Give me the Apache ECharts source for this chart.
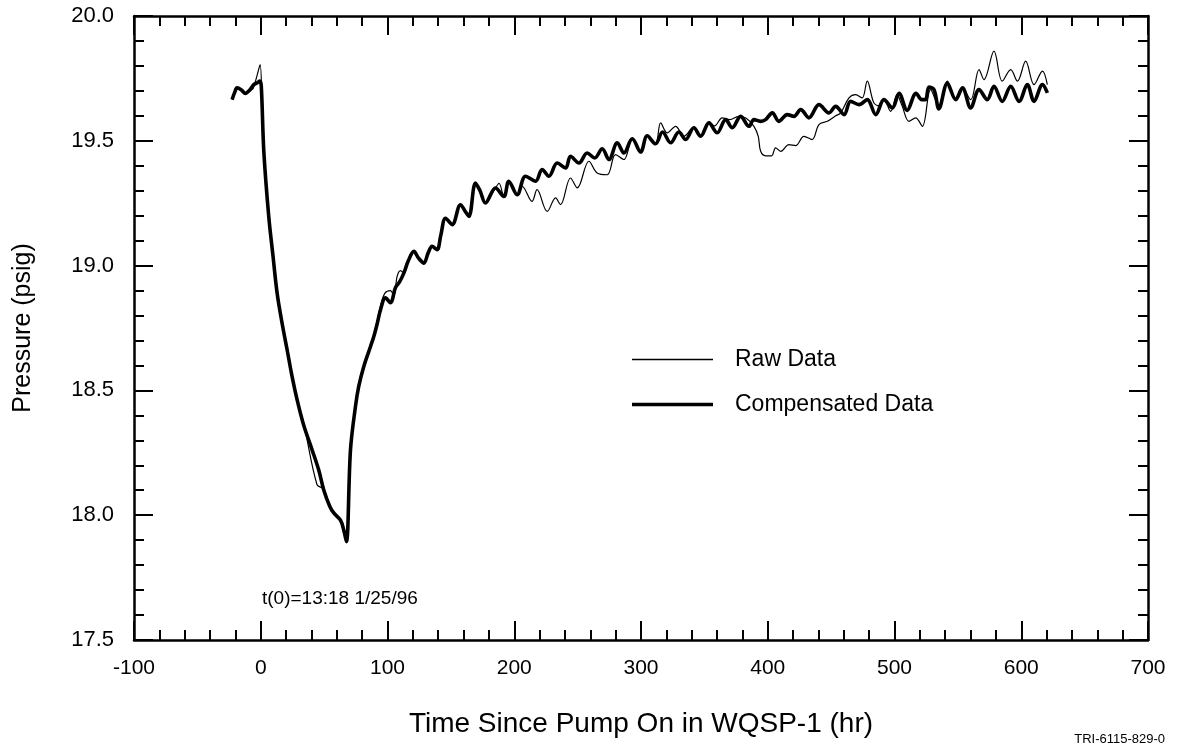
<!DOCTYPE html>
<html>
<head>
<meta charset="utf-8">
<script src="https://cdn.jsdelivr.net/npm/echarts@6/dist/echarts.min.js"></script>
<style>
html,body{margin:0;padding:0;background:#fff;}
#chart{width:1178px;height:754px;}
</style>
</head>
<body>
<div id="chart"></div>
<script>
// ---- data (hours since pump on, pressure psig) ----
var compHours = [-22.6,-20.5,-18.7,-15.5,-12.1,-8.5,-5.5,-2.9,-0.8,0.4,2.4,6.3,9.7,12.9,16.8,20.8,24.7,28.7,33.9,40.5,45.8,49.7,54.5,57.6,62.9,65.5,67.6,70.8,74.7,77.3,81.3,86.6,89.2,92,94.5,98.4,102.3,106.3,109.5,112.9,116.5,120.8,124.5,128.7,132,135.2,139.1,142,145.8,151.0,157.6,161,164.2,169.4,173,177.3,185.2,191.8,195.7,202.3,208.9,216.8,222.0,227.3,233.9,240.5,244.4,251,257.5,263.5,269.4,274.7,281.3,286.5,293.1,299.7,304.9,311.5,317,323.4,329.9,335.2,341.7,347,353.6,360.1,366.8,372,378.6,385.2,389.1,394.4,398.3,403.6,408.8,415.4,420.7,426,432.5,440.4,448.3,453.6,460.2,465.4,472,478.5,485.2,491.7,498.3,503.6,510,517,521.5,524.5,527.2,531.2,535,541.7,548.3,553.6,560.1,566.7,573.2,578.5,585,591.7,598.3,604.8,610.1,616.7,620.6];
var compPsig = [19.665,19.695,19.712,19.705,19.690,19.705,19.725,19.732,19.739,19.72,19.46,19.197,19.037,18.89,18.77,18.663,18.556,18.462,18.36,18.262,18.18,18.101,18.035,18.009,17.98,17.94,17.894,18.262,18.435,18.516,18.596,18.676,18.716,18.77,18.823,18.871,18.851,18.912,18.935,18.97,19.02,19.057,19.03,19.01,19.05,19.077,19.064,19.12,19.19,19.164,19.244,19.22,19.197,19.331,19.30,19.251,19.311,19.277,19.338,19.284,19.358,19.338,19.385,19.358,19.411,19.391,19.438,19.411,19.451,19.431,19.468,19.425,19.492,19.451,19.508,19.455,19.520,19.488,19.535,19.492,19.535,19.505,19.552,19.518,19.572,19.532,19.585,19.552,19.598,19.558,19.585,19.578,19.585,19.612,19.578,19.605,19.598,19.625,19.592,19.645,19.612,19.638,19.605,19.658,19.645,19.665,19.605,19.665,19.632,19.690,19.622,19.690,19.665,19.665,19.715,19.705,19.628,19.730,19.665,19.712,19.632,19.705,19.665,19.718,19.658,19.718,19.658,19.725,19.658,19.725,19.692];

var rawHours = [-22.6,-20.5,-18.7,-15.5,-12.1,-8.5,-6,-3,-0.5,1.2,2.4,6.3,9.7,12.9,16.8,20.8,24.7,28.7,33.4,44.4,49.7,54.5,57.6,62.9,65.5,67.6,70.8,74.7,77.3,81.3,86.6,89.2,92,94.5,98,102.3,105,107.6,110.3,113,116.5,120.8,124.5,128.7,132,135.2,139.1,142,145.8,151.0,157.6,161,164.2,169.4,173,177.3,185.2,188,191.8,195.7,202.3,206.2,214,218,226,232.6,236.5,244.4,249.7,258.9,265.4,273.3,279.9,286.5,293.1,299.7,304.9,311.5,315.5,320.7,327.3,333.9,341.7,347,353.6,358,364.1,370,377.1,383,389.1,392.5,394.4,398.3,403,406.2,410.2,416.7,422,428.5,435,440.4,447,453.6,457.5,464.1,469.3,474.5,478.5,483.7,488,491.7,497,502,506,511.4,516.7,522,528.5,535,541.7,548.3,553.6,560.1,566.7,570.6,578.5,585,591.7,597,603.5,610.1,616.7,620.6];
var rawPsig = [19.665,19.695,19.712,19.705,19.690,19.700,19.71,19.76,19.805,19.60,19.47,19.20,19.04,18.89,18.77,18.66,18.556,18.46,18.38,18.122,18.105,18.035,18.01,17.975,17.94,17.894,18.26,18.44,18.52,18.60,18.68,18.72,18.78,18.84,18.89,18.90,18.88,18.957,18.98,18.97,19.02,19.057,19.03,19.01,19.05,19.077,19.064,19.12,19.19,19.164,19.244,19.22,19.197,19.331,19.30,19.251,19.311,19.33,19.277,19.338,19.284,19.318,19.257,19.304,19.217,19.271,19.244,19.351,19.311,19.418,19.371,19.364,19.445,19.425,19.505,19.458,19.52,19.49,19.572,19.532,19.558,19.518,19.555,19.52,19.575,19.56,19.592,19.585,19.598,19.59,19.558,19.518,19.458,19.44,19.44,19.472,19.458,19.485,19.481,19.518,19.505,19.565,19.578,19.60,19.612,19.672,19.685,19.672,19.739,19.652,19.64,19.665,19.618,19.685,19.64,19.578,19.592,19.558,19.705,19.64,19.739,19.67,19.71,19.665,19.785,19.745,19.859,19.739,19.785,19.739,19.819,19.725,19.779,19.725];

var xTicks = {min:-100, max:700, step:100};
var yTicks = {min:17.5, max:20.0, step:0.5};
var seriesNames = ['Raw Data','Compensated Data'];
var xTitle = 'Time Since Pump On in WQSP-1 (hr)';
var yTitle = 'Pressure (psig)';
var noteText = 't(0)=13:18 1/25/96';
var figId = 'TRI-6115-829-0';

function zip(a,b){var o=[];for(var i=0;i<a.length;i++)o.push([a[i],b[i]]);return o;}

var FONT = '"Liberation Sans", Arial, Helvetica, sans-serif';
var chart = echarts.init(document.getElementById('chart'), null, {renderer:'canvas'});

function axisCommon(){
  return {
    axisLine:{show:true,onZero:false,lineStyle:{color:'#000',width:2.5}},
    axisTick:{show:true,inside:true,length:19,lineStyle:{color:'#000',width:2}},
    minorTick:{show:true,splitNumber:5,length:10,lineStyle:{color:'#000',width:2}},
    splitLine:{show:false},
    minorSplitLine:{show:false}
  };
}

var xb = Object.assign(axisCommon(), {
  type:'value', position:'bottom', min:xTicks.min, max:xTicks.max, interval:xTicks.step,
  axisLabel:{color:'#000',fontSize:21,fontFamily:FONT,margin:18},
  name:xTitle, nameLocation:'middle', nameGap:70,
  nameTextStyle:{color:'#000',fontSize:28,fontFamily:FONT}
});
var xt = Object.assign(axisCommon(), {
  type:'value', position:'top', min:xTicks.min, max:xTicks.max, interval:xTicks.step,
  axisLabel:{show:false}
});
var yl = Object.assign(axisCommon(), {
  type:'value', position:'left', min:yTicks.min, max:yTicks.max, interval:yTicks.step,
  axisLabel:{color:'#000',fontSize:22,fontFamily:FONT,margin:20,formatter:function(v){return v.toFixed(1);}},
  name:yTitle, nameLocation:'middle', nameGap:98, nameRotate:90,
  nameTextStyle:{color:'#000',fontSize:25,fontFamily:FONT}
});
var yr = Object.assign(axisCommon(), {
  type:'value', position:'right', min:yTicks.min, max:yTicks.max, interval:yTicks.step,
  axisLabel:{show:false}
});

chart.setOption({
  animation:false,
  backgroundColor:'#fff',
  grid:{left:134,right:30,top:16,bottom:114,containLabel:false},
  xAxis:[xb, xt],
  yAxis:[yl, yr],
  legend:{
    show:true,
    data:[
      {name:seriesNames[0], icon:'path://M0,0H81V1.3H0Z'},
      {name:seriesNames[1], icon:'path://M0,0H81V3.6H0Z'}
    ],
    symbolKeepAspect:true,
    orient:'vertical', left:627, top:343,
    itemWidth:81, itemHeight:20, itemGap:22,
    itemStyle:{color:'#000', borderWidth:0},
    textStyle:{color:'#000',fontSize:23,fontFamily:FONT,padding:[0,0,0,17]},
    selectedMode:false
  },
  graphic:[
    {type:'text', left:262, top:589, style:{text:noteText, fill:'#000', font:'19px '+FONT}},
    {type:'text', right:13, top:733, style:{text:figId, fill:'#000', font:'13px '+FONT}}
  ],
  series:[
    {name:seriesNames[0], type:'line', xAxisIndex:0, yAxisIndex:0, data:zip(rawHours,rawPsig),
     showSymbol:false, symbol:'none', smooth:0.35, z:3,
     lineStyle:{color:'#000',width:1.2}, itemStyle:{color:'#000'}},
    {name:seriesNames[1], type:'line', xAxisIndex:0, yAxisIndex:0, data:zip(compHours,compPsig),
     showSymbol:false, symbol:'none', smooth:0.35, z:2,
     lineStyle:{color:'#000',width:3.6}, itemStyle:{color:'#000'}}
  ]
});
</script>
</body>
</html>
